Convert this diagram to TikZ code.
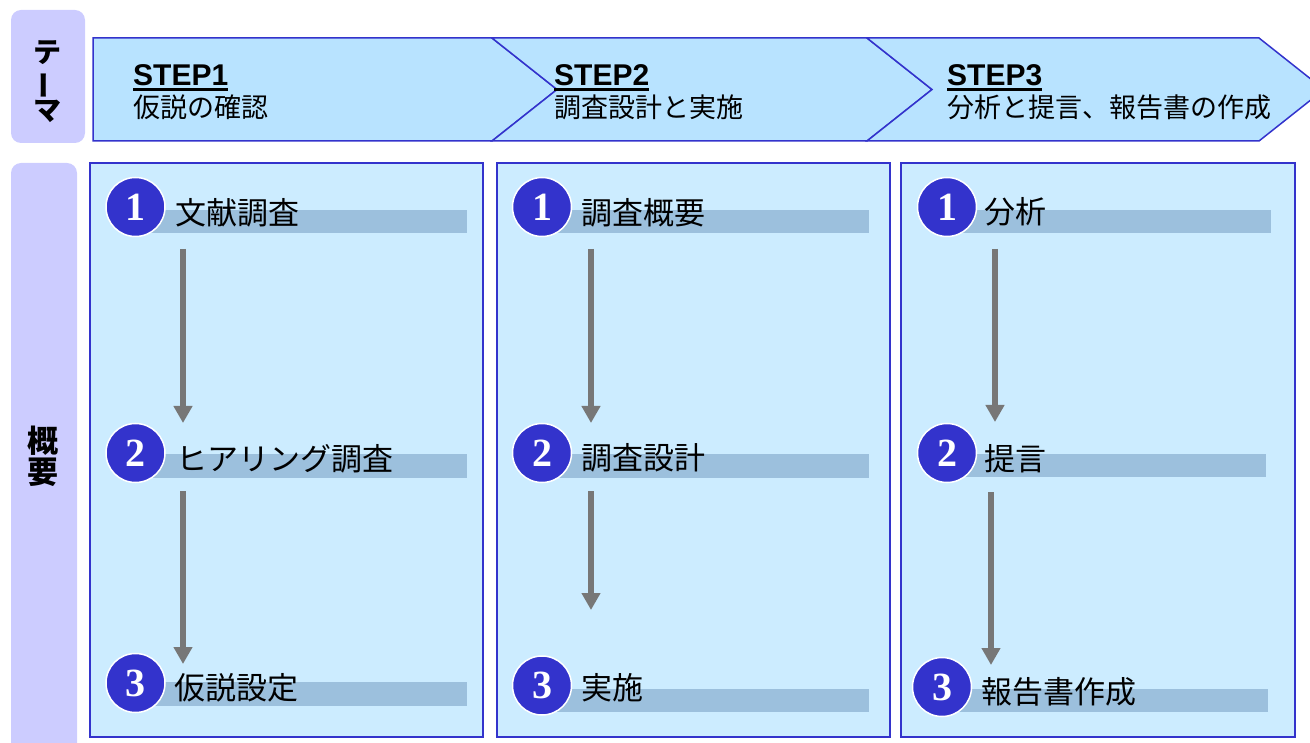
\documentclass[tikz,border=0pt]{standalone}
\usepackage{fontspec}
\usepackage{graphicx}
\newfontfamily\jp{Noto Sans CJK JP}
\newfontfamily\ar{Liberation Sans}
\newfontfamily\tm{Liberation Serif}
\usetikzlibrary{arrows.meta}
\definecolor{lab}{HTML}{CCCCFF}
\definecolor{chev}{HTML}{B8E3FF}
\definecolor{pan}{HTML}{CCECFF}
\definecolor{edgec}{HTML}{3333CC}
\definecolor{barc}{HTML}{9CC0DD}
\definecolor{badgec}{HTML}{3333CC}
\definecolor{arr}{HTML}{777777}
\begin{document}
\begin{tikzpicture}[x=1pt,y=-1pt,
  labelbox/.style={fill=lab, rounded corners=10pt},
  chevron/.style={fill=chev, draw=edgec, line width=1.5pt, line join=miter},
  panel/.style={fill=pan, draw=edgec, line width=1.5pt},
  bar/.style={fill=barc},
  badge/.style={circle, fill=badgec, draw=white, line width=1.5pt, minimum size=59pt, inner sep=0pt, text=white, font=\tm\bfseries\fontsize{40}{40}\selectfont},
  item/.style={anchor=west, inner sep=0pt, font=\jp\fontsize{31}{31}\selectfont},
  steptitle/.style={anchor=base west, inner sep=0pt, font=\ar\bfseries\fontsize{30}{30}\selectfont},
  stepsub/.style={anchor=west, inner sep=0pt, font=\jp\fontsize{27}{27}\selectfont},
  flow/.style={draw=arr, line width=6pt, -{Triangle[width=18pt,length=17pt]}},
  uline/.style={line width=2.5pt}
]
\useasboundingbox (0,0) rectangle (1310,743);
\clip (0,0) rectangle (1310,743);

% left labels
\path[labelbox] (11,10) rectangle (85,143);
\node[font=\jp\bfseries\fontsize{28}{29}\selectfont, align=center, inner sep=0pt] (thema) at (48,82) {テ\\\rotatebox[origin=c]{90}{ー}\\マ};
\path[labelbox] (11,163) rectangle (77,770);
\node[font=\jp\bfseries\fontsize{31}{31}\selectfont, align=center, inner sep=0pt] (gaiyo) at (43,456) {概\\要};

% chevrons
\path[chevron] (93,38) -- (492,38) -- (557,89.5) -- (492,141) -- (93,141) -- cycle;
\path[chevron] (492,38) -- (867,38) -- (932,89.5) -- (867,141) -- (492,141) -- (557,89.5) -- cycle;
\path[chevron] (867,38) -- (1259,38) -- (1324,89.5) -- (1259,141) -- (867,141) -- (932,89.5) -- cycle;

\node[steptitle] (s1) at (133,86) {STEP1};
\draw[uline] ([yshift=-3.5pt]s1.base west) -- ([yshift=-3.5pt]s1.base east);
\node[stepsub] (t1) at (133,107.5) {仮説の確認};
\node[steptitle] (s2) at (554,86) {STEP2};
\draw[uline] ([yshift=-3.5pt]s2.base west) -- ([yshift=-3.5pt]s2.base east);
\node[stepsub] (t2) at (554,107.5) {調査設計と実施};
\node[steptitle] (s3) at (947,86) {STEP3};
\draw[uline] ([yshift=-3.5pt]s3.base west) -- ([yshift=-3.5pt]s3.base east);
\node[stepsub] (t3) at (947,107.5) {分析と提言、報告書の作成};

% panels
\path[panel] (90,163) rectangle (483,737);
\path[panel] (497,163) rectangle (890,737);
\path[panel] (901,163) rectangle (1295,737);

% panel 1
\path[bar] (135,210) rectangle (467,233);
\node[badge] (p1n1) at (135.5,207) {1};
\node[item] (p1i1) at (175,212.5) {文献調査};
\path[bar] (135,454) rectangle (467,478);
\node[badge] (p1n2) at (135.5,453) {2};
\node[item] (p1i2) at (176,459) {ヒアリング調査};
\path[bar] (135,682) rectangle (467,706);
\node[badge] (p1n3) at (135.5,683) {3};
\node[item] (p1i3) at (174,687.5) {仮説設定};

% panel 2
\path[bar] (542,210) rectangle (869,233);
\node[badge] (p2n1) at (542,207) {1};
\node[item] (p2i1) at (581,213) {調査概要};
\path[bar] (542,454) rectangle (869,478);
\node[badge] (p2n2) at (542,453) {2};
\node[item] (p2i2) at (581,458) {調査設計};
\path[bar] (542,689) rectangle (869,712);
\node[badge] (p2n3) at (542,685.5) {3};
\node[item] (p2i3) at (581,688) {実施};

% panel 3
\path[bar] (947,210) rectangle (1271,233);
\node[badge] (p3n1) at (947,207) {1};
\node[item] (p3i1) at (984,212) {分析};
\path[bar] (947,454) rectangle (1266,477);
\node[badge] (p3n2) at (947,453) {2};
\node[item] (p3i2) at (984,459) {提言};
\path[bar] (942,689) rectangle (1268,712);
\node[badge] (p3n3) at (942,687) {3};
\node[item] (p3i3) at (981,692) {報告書作成};

% arrows
\coordinate (p1a1s) at (183,249); \coordinate (p1a1e) at (183,423);
\coordinate (p1a2s) at (183,491); \coordinate (p1a2e) at (183,664);
\coordinate (p2a1s) at (591,249); \coordinate (p2a1e) at (591,423);
\coordinate (p2a2s) at (591,491); \coordinate (p2a2e) at (591,610);
\coordinate (p3a1s) at (995,249); \coordinate (p3a1e) at (995,422);
\coordinate (p3a2s) at (991,492); \coordinate (p3a2e) at (991,665);
\draw[flow] (p1a1s) -- (p1a1e);
\draw[flow] (p1a2s) -- (p1a2e);
\draw[flow] (p2a1s) -- (p2a1e);
\draw[flow] (p2a2s) -- (p2a2e);
\draw[flow] (p3a1s) -- (p3a1e);
\draw[flow] (p3a2s) -- (p3a2e);
\end{tikzpicture}
\end{document}
